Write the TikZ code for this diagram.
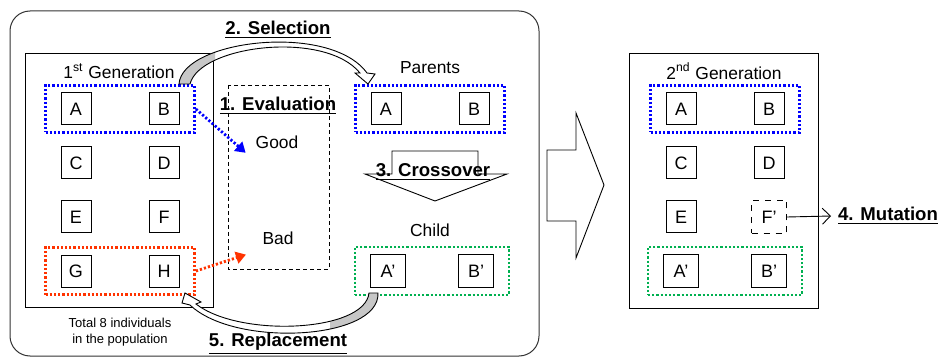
\documentclass[tikz,border=0pt]{standalone}
\usepackage{fontspec}
\setmainfont{Liberation Sans}
\usetikzlibrary{positioning,fit,arrows.meta}

\definecolor{selblue}{RGB}{0,0,255}
\definecolor{badred}{RGB}{255,51,0}
\definecolor{kidgreen}{RGB}{0,176,80}

\tikzset{
  indiv/.style={draw, line width=0.5pt, minimum width=15pt, minimum height=16pt, inner sep=0pt, font=\fontsize{9}{10}\selectfont},
  widebox/.style={indiv, minimum width=17.5pt, minimum height=16.5pt},
  group/.style={draw=#1, line width=1.4pt, dash pattern=on 1.1pt off 1pt, inner xsep=7.5pt, inner ysep=3.5pt},
  dotarrow/.style={draw=#1, line width=1.4pt, dash pattern=on 1.1pt off 1pt, -{Triangle[length=5pt, width=6pt]}},
  frame/.style={draw, line width=0.45pt},
  title/.style={font=\bfseries\fontsize{9.3}{11}\selectfont},
  lbl/.style={font=\fontsize{8.7}{11}\selectfont},
  blockarrow/.style={draw, line width=0.45pt, line join=miter},
}

\begin{document}
\begin{tikzpicture}[x=0.5pt, y=-0.5pt, node distance=27pt and 44pt, on grid]
        \useasboundingbox (0,0) rectangle (938,358);

        % frames
        \draw[rounded corners=10pt, line width=0.5pt, draw=black!80] (10,11) rectangle (539,356);
        \draw[frame] (25,53) rectangle (213,307);
        \draw[frame] (629,53) rectangle (818,308);
        \draw[line width=0.45pt, dash pattern=on 2pt off 1.5pt] (228,85) rectangle (329,269);

        % 1st generation
        \node [lbl] (gen1) at (119,71) {1\textsuperscript{st} Generation};
        \node [indiv] (a1) at (76,109) {A};
        \node [indiv, right = of a1] (b1) {B};
        \node [indiv, below = of a1] (c1) {C};
        \node [indiv, right = of c1] (d1) {D};
        \node [indiv, below = of c1] (e1) {E};
        \node [indiv, right = of e1] (f1) {F};
        \node [indiv, below = of e1] (g1) {G};
        \node [indiv, right = of g1] (h1) {H};
        \node [group=selblue, fit=(a1)(b1)] (best1) {};
        \node [group=badred, fit=(g1)(h1)] (worst1) {};
        \node [lbl, font=\fontsize{6.5}{8}\selectfont, align=center] (total) at (120,332) {Total 8 individuals\\in the population};

        % evaluation
        \node [title] (eval) at (278,106) {\underline{1. Evaluation}};
        \node [lbl] (good) at (277,142) {Good};
        \node [lbl] (bad) at (278,238) {Bad};
        \draw [dotarrow=selblue, shorten >=2pt] (best1.east) -- (good.south west);
        \draw [dotarrow=badred, shorten >=5pt] (worst1.east) -- (bad.south west);

        % parents and child
        \node [lbl] (parlbl) at (430,68) {Parents};
        \node [indiv] (pa) at (386,109) {A};
        \node [indiv, right = of pa] (pb) {B};
        \node [group=selblue, fit=(pa)(pb)] (parents) {};
        \node [lbl] (kidlbl) at (430,230) {Child};
        \node [widebox] (ka) at (388,271) {A’};
        \node [widebox, right = of ka] (kb) {B’};
        \node [group=kidgreen, fit=(ka)(kb)] (child) {};

        % 2. selection
        \def\selpath{(179,84) .. controls (182,40) and (330,22) .. (367,73) -- (375,74) -- (368,84) -- (355,73) -- (360,73) .. controls (325,30) and (200,45) .. (190,84) -- cycle}
        \fill[white] \selpath;
        \begin{scope}
          \clip (0,0) rectangle (215,358);
          \fill[black!22] \selpath;
        \end{scope}
        \draw[line width=0.45pt] \selpath;
        \node [title] (sel) at (278,30) {\underline{2. Selection}};

        % 3. crossover
        \draw[blockarrow] (392,174) -- (392,151) -- (478,151) -- (478,174) -- (507,174) -- (435,201) -- (365,174) -- cycle;
        \node [title] (xover) at (433,172) {\underline{3. Crossover}};

        % 5. replacement
        \def\reppath{(378,293) .. controls (380,340) and (235,348) .. (190,305) -- (182,303) -- (185,293) -- (201,302) -- (196,304) .. controls (240,338) and (365,332) .. (369,293) -- cycle}
        \fill[white] \reppath;
        \begin{scope}
          \clip (330,0) rectangle (540,358);
          \fill[black!22] \reppath;
        \end{scope}
        \draw[line width=0.45pt] \reppath;
        \node [title] (repl) at (278,344) {\underline{5. Replacement}};

        % next generation arrow
        \draw[blockarrow] (547,150) -- (576,150) -- (576,113) -- (604,185) -- (576,258) -- (576,221) -- (547,221) -- cycle;

        % 2nd generation
        \node [lbl] (gen2) at (724,71) {2\textsuperscript{nd} Generation};
        \node [indiv] (a2) at (681,109) {A};
        \node [indiv, right = of a2] (b2) {B};
        \node [indiv, below = of a2] (c2) {C};
        \node [indiv, right = of c2] (d2) {D};
        \node [indiv, below = of c2] (e2) {E};
        \node [widebox, dashed, line width=0.45pt, right = of e2] (f2) {F’};
        \node [widebox, below = of e2] (ka2) {A’};
        \node [widebox, right = of ka2] (kb2) {B’};
        \node [group=selblue, fit=(a2)(b2)] (best2) {};
        \node [group=kidgreen, fit=(ka2)(kb2)] (child2) {};

        % 4. mutation
        \node [title, anchor=west] (mut) at (831,216) {\underline{4. Mutation}};
        \draw[line width=0.45pt, -{Straight Barb[length=4pt, width=8pt]}] (f2.east) -- (mut.west);
\end{tikzpicture}
\end{document}
